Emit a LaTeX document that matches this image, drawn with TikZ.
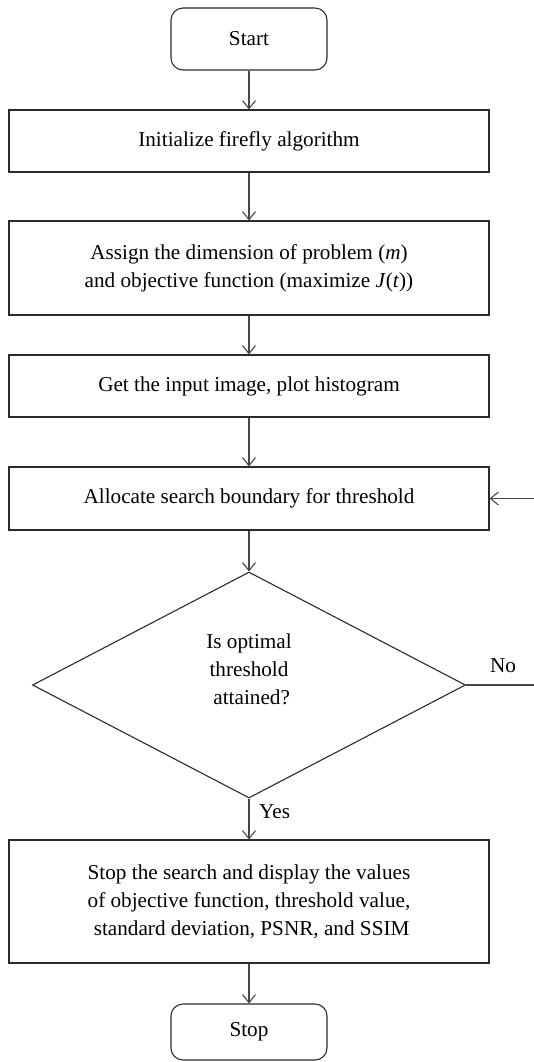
\documentclass[tikz,border=0pt]{standalone}
\usepackage{fontspec}
\setmainfont{Liberation Serif}
\usepackage{tikz}
\usetikzlibrary{arrows.meta,positioning,shapes.geometric}
\definecolor{edge}{HTML}{2B2B2B}
\definecolor{link}{HTML}{474747}
\tikzset{
  every node/.style={font=\fontsize{10.6}{14}\selectfont},
  procbox/.style={draw=edge,line width=0.55pt,minimum width=240pt,align=center,inner sep=0pt},
  termbox/.style={draw=edge,line width=0.55pt,rounded corners=6pt,minimum width=78pt},
  decbox/.style={draw=edge,line width=0.55pt,diamond,minimum width=216.5pt,minimum height=113pt,inner sep=0pt},
  flow/.style={draw=link,line width=0.55pt,-{Straight Barb[length=4pt,width=6.5pt]}},
}

\begin{document}
\begin{tikzpicture}[x=0.5pt,y=-0.5pt]
    \useasboundingbox (0,0) rectangle (534,1062);
    \node[termbox,minimum height=31pt] (start) at (249,39) {Start};
    \node[procbox,minimum height=31pt] (init) at (249,141) {Initialize firefly algorithm};
    \node[procbox,minimum height=47pt] (assign) at (249,268)
      {Assign the dimension of problem (\textit{m})\\and objective function (maximize \textit{J}(\textit{t}))};
    \node[procbox,minimum height=31pt] (hist) at (249,386) {Get the input image, plot histogram};
    \node[procbox,minimum height=31.5pt] (alloc) at (249,498.5) {Allocate search boundary for threshold};
    \node[decbox,label={[align=center,yshift=8pt]center:{Is optimal\\threshold\\\ attained?}}] (check) at (249,685) {};
    \node[procbox,minimum height=61.5pt] (result) at (249,901.5)
      {Stop the search and display the values\\of objective function, threshold value,\\\ standard deviation, PSNR, and SSIM};
    \node[termbox,minimum height=28pt] (stop) at (249,1032) {Stop};
    % main line, top to bottom
    \draw[flow] (start) -- (init);
    \draw[flow] (init) -- (assign);
    \draw[flow] (assign) -- (hist);
    \draw[flow] (hist) -- (alloc);
    \draw[flow] (alloc) -- (check);
    \draw[flow] (check.south) -- node[pos=0.33,right=1.5pt] (yes) {Yes} (result.north);
    \draw[flow] (result) -- (stop);
    % the "No" loop runs off the right edge
    \coordinate (loopa) at (545,685);
    \coordinate (loopb) at (545,498.5);
    \node (no) at (503,666) {No};
    \draw[flow] (check.east) -- (loopa) -- (loopb) -- (alloc.east);
\end{tikzpicture}
\end{document}
